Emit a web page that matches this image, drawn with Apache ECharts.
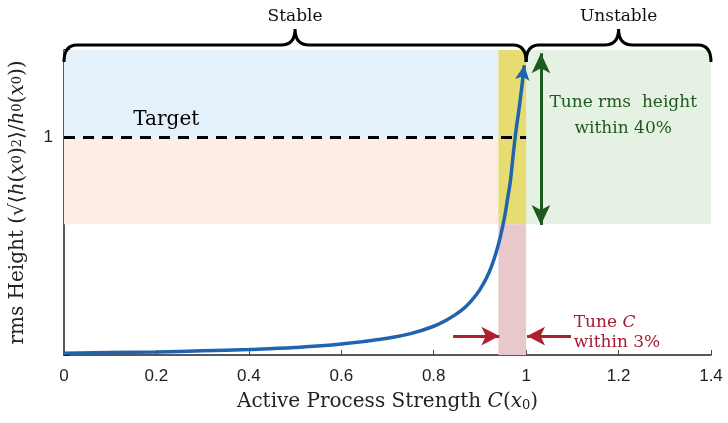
<!DOCTYPE html>
<html>
<head>
<meta charset="utf-8">
<script src="https://cdn.jsdelivr.net/npm/echarts@6/dist/echarts.min.js"></script>
<style>html,body{margin:0;padding:0;background:#fff;}#c{width:728px;height:423px;}</style>
</head>
<body>
<div id="c"></div>
<script>
// ---- data ----
const curveX = [0, 0.1, 0.2, 0.3, 0.4, 0.5, 0.6, 0.7, 0.75, 0.8, 0.83, 0.86, 0.88, 0.9, 0.92, 0.935, 0.945, 0.953, 0.96, 0.966, 0.972, 0.978, 0.984, 0.99, 0.996];
const curveY = [0.008, 0.011, 0.014, 0.019, 0.025, 0.034, 0.05, 0.077, 0.098, 0.132, 0.163, 0.205, 0.245, 0.30, 0.38, 0.47, 0.55, 0.63, 0.72, 0.80, 0.92, 1.03, 1.12, 1.22, 1.33];
const xTicks = ['0', '0.2', '0.4', '0.6', '0.8', '1', '1.2', '1.4'];
const yTickValue = 1;
const yTickLabel = '1';
const targetY = 1;
// shaded regions: [x0, x1, y0, y1]
const regionBlue = [0, 0.94, 1, 1.4];
const regionOrange = [0, 0.94, 0.6, 1];
const regionYellow = [0.94, 1.0, 0.6, 1.4];
const regionPink = [0.94, 1.0, 0, 0.6];
const regionGreen = [1.0, 1.4, 0.6, 1.4];
// braces: [x0, x1, label]
const braces = [[0, 1, 'Stable'], [1, 1.4, 'Unstable']];
// arrows
const greenArrow = [[1.032, 1.385], [1.032, 0.597]];
const redArrowLeft = [[0.842, 0.087], [0.942, 0.087]];
const redArrowRight = [[1.097, 0.087], [1.002, 0.087]];
// annotation texts: [x, y, text, kind]
const notes = [
  [0.15, 1.08, 'Target', 'target'],
  [1.21, 1.16, 'Tune rms  height', 'green'],
  [1.21, 1.04, 'within 40%', 'green'],
  [1.103, 0.147, 'Tune {i|C}', 'red'],
  [1.103, 0.055, 'within 3%', 'red']
];

const SERIF = '"DejaVu Serif", "Liberation Serif", serif';
const SANS = '"Liberation Sans", Arial, sans-serif';

function area(r, color) {
  return [{ xAxis: r[0], yAxis: r[2], itemStyle: { color: color } }, { xAxis: r[1], yAxis: r[3] }];
}

const chart = echarts.init(document.getElementById('c'));
const lineData = curveX.map((x, i) => [x, curveY[i]]);
const last = lineData.length - 1;
lineData[last] = { value: lineData[last], symbol: 'arrow', symbolSize: [11, 15], symbolRotate: -8, itemStyle: { color: '#1f64ae' } };

const noteStyles = {
  target: { fontFamily: SERIF, fontSize: 20, color: '#000', align: 'left' },
  green: { fontFamily: SERIF, fontSize: 17, color: '#1f5a22', align: 'center' },
  red: { fontFamily: SERIF, fontSize: 17, color: '#a31d33', align: 'left',
         rich: { i: { fontFamily: SERIF, fontStyle: 'italic', fontSize: 17, color: '#a31d33' } } }
};

chart.setOption({
  animation: false,
  grid: { left: 61, right: 17, top: 50, bottom: 68 },
  xAxis: {
    type: 'value', min: 0, max: 1.4, interval: 0.2,
    name: '{a|Active Process Strength }{i|C}{a|(}{i|x}{s|0}{a|)}',
    nameLocation: 'middle', nameGap: 36,
    nameTextStyle: {
      rich: {
        a: { fontFamily: SERIF, fontSize: 20, color: '#222' },
        i: { fontFamily: SERIF, fontSize: 20, fontStyle: 'italic', color: '#222' },
        s: { fontFamily: SERIF, fontSize: 13, color: '#222', verticalAlign: 'bottom', padding: [8, 0, 0, 0] }
      }
    },
    axisLine: { lineStyle: { color: '#222', width: 1.5 } },
    axisTick: { inside: true, length: 5, lineStyle: { color: '#444' } },
    axisLabel: { fontFamily: SANS, fontSize: 17, color: '#222', margin: 13,
      formatter: (v) => xTicks[Math.round(v / 0.2)] },
    splitLine: { show: false }
  },
  yAxis: {
    type: 'value', min: 0, max: 1.4, interval: 1,
    name: '{a|rms Height }{a|(}{m|√⟨}{i|h}{a|(}{i|x}{s|0}{a|)}{s|2}{m|⟩}{a|/}{i|h}{s|0}{a|(}{i|x}{s|0}{a|))}',
    nameLocation: 'middle', nameGap: 36, nameRotate: 90,
    nameTextStyle: {
      rich: {
        a: { fontFamily: SERIF, fontSize: 20, color: '#222' },
        m: { fontFamily: SERIF, fontSize: 20, color: '#222' },
        i: { fontFamily: SERIF, fontSize: 20, fontStyle: 'italic', color: '#222' },
        s: { fontFamily: SERIF, fontSize: 13, color: '#222' }
      }
    },
    axisLine: { show: true, lineStyle: { color: '#222', width: 1.5 } },
    axisTick: { inside: true, length: 6, lineStyle: { color: '#222', width: 2 } },
    axisLabel: { fontFamily: SANS, fontSize: 17, color: '#222', margin: 11,
      formatter: (v) => (Math.abs(v - yTickValue) < 1e-9 ? yTickLabel : '') },
    splitLine: { show: false }
  },
  series: [
    {
      type: 'line', name: 'regions', data: [], silent: true,
      markArea: {
        silent: true,
        data: [
          area(regionBlue, '#e4f1fb'),
          area(regionOrange, '#fdeee5'),
          area(regionGreen, '#e5f1e2'),
          area(regionYellow, '#e7dc72'),
          area(regionPink, '#e8c8cb')
        ]
      }
    },
    {
      type: 'line', name: 'target', data: [], silent: true,
      markLine: {
        silent: true, symbol: ['none', 'none'], label: { show: false },
        lineStyle: { color: '#000', width: 3, type: [11, 8] },
        data: [[{ coord: [0, targetY] }, { coord: [1.0, targetY] }]]
      }
    },
    {
      type: 'line', name: 'rms', data: lineData, smooth: 0.4,
      showSymbol: true, symbol: 'none',
      lineStyle: { color: '#1f64ae', width: 3.5 }, z: 5
    },
    {
      type: 'line', name: 'arrows', data: [], silent: true,
      markLine: {
        silent: true, label: { show: false },
        data: [
          [{ coord: greenArrow[0], symbol: 'arrow', symbolSize: [14, 20], lineStyle: { color: '#1d5a20', width: 3, type: 'solid' } },
           { coord: greenArrow[1], symbol: 'arrow', symbolSize: [14, 20] }],
          [{ coord: redArrowLeft[0], symbol: 'none', lineStyle: { color: '#b01f30', width: 3, type: 'solid' } },
           { coord: redArrowLeft[1], symbol: 'arrow', symbolSize: [14, 18] }],
          [{ coord: redArrowRight[0], symbol: 'none', lineStyle: { color: '#b01f30', width: 3, type: 'solid' } },
           { coord: redArrowRight[1], symbol: 'arrow', symbolSize: [14, 18] }]
        ]
      }
    },
    {
      type: 'scatter', name: 'notes', symbolSize: 0, silent: true, z: 6,
      itemStyle: { opacity: 1 },
      data: notes.map(n => ({
        value: [n[0], n[1]],
        label: Object.assign({ show: true, opacity: 1, position: 'inside', formatter: n[2], verticalAlign: 'middle' }, noteStyles[n[3]])
      }))
    },
    {
      type: 'custom', name: 'braces', clip: false, silent: true, z: 7,
      data: braces.map(b => [b[0], b[1], 1.4, b[2]]),
      encode: { x: [0, 1], y: 2 },
      renderItem: function (params, api) {
        const p0 = api.coord([api.value(0), api.value(2)]);
        const p1 = api.coord([api.value(1), api.value(2)]);
        const yb = p0[1] - 5;
        const x0 = p0[0], x1 = p1[0], xm = (x0 + x1) / 2;
        const re = 13, ve = 17, rm = 14, vm = 16;
        const d = 'M' + x0 + ' ' + (yb + ve) +
          ' Q' + x0 + ' ' + yb + ' ' + (x0 + re) + ' ' + yb +
          ' L' + (xm - rm) + ' ' + yb +
          ' Q' + xm + ' ' + yb + ' ' + xm + ' ' + (yb - vm) +
          ' Q' + xm + ' ' + yb + ' ' + (xm + rm) + ' ' + yb +
          ' L' + (x1 - re) + ' ' + yb +
          ' Q' + x1 + ' ' + yb + ' ' + x1 + ' ' + (yb + ve);
        const label = braces[params.dataIndex][2];
        return {
          type: 'group',
          children: [
            { type: 'path', shape: { pathData: d }, style: { fill: null, stroke: '#000', lineWidth: 3 } },
            { type: 'text', x: xm, y: yb - vm - 12,
              style: { text: label, font: '17px ' + SERIF, fill: '#111', align: 'center', verticalAlign: 'middle' } }
          ]
        };
      }
    }
  ]
});
</script>
</body>
</html>
